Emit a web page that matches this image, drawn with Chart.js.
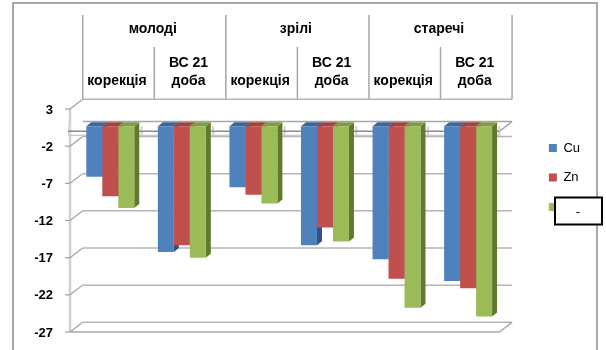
<!DOCTYPE html>
<html>
<head>
<meta charset="utf-8">
<script src="https://cdn.jsdelivr.net/npm/chart.js@4/dist/chart.umd.min.js"></script>
<style>
  html, body { margin: 0; padding: 0; background: #fff; }
  #wrap { width: 606px; height: 350px; }
</style>
</head>
<body>
<div id="wrap"><canvas id="c" width="606" height="350"></canvas></div>
<script>
// Sub-categories (lower header row) and age groups (upper header row)
const categories = ['корекція', ['ВС 21', 'доба'], 'корекція', ['ВС 21', 'доба'], 'корекція', ['ВС 21', 'доба']];
const groups = ['молоді', 'зрілі', 'старечі'];

// Series values
const cuValues    = [-6.8, -16.9, -8.2, -16.0, -17.9, -20.8];
const znValues    = [-9.4, -16.0, -9.2, -13.6, -20.5, -21.8];
const thirdValues = [-11.0, -17.7, -10.4, -15.5, -24.4, -25.6];

// Value axis ticks
const yTicks = [3, -2, -7, -12, -17, -22, -27];

// Perspective offsets of the front edge and back wall relative to the bars' plane
const FRONT = { dx: -4.5, dy: 5 };
const BACK  = { dx: 8.2, dy: -4.7 };
const DEPTH = { dx: 5, dy: 4 };

const sideColors = ['#2f5384', '#8a3431', '#5f7a2c'];
const topColors  = ['#3d679c', '#a2423f', '#7f9c45'];

function seg(ctx, x1, y1, x2, y2) {
  ctx.beginPath(); ctx.moveTo(x1, y1); ctx.lineTo(x2, y2); ctx.stroke();
}

const frame3d = {
  id: 'frame3d',
  beforeDraw(chart) {
    const ctx = chart.ctx;
    ctx.save();
    ctx.strokeStyle = '#8c8c8c';
    ctx.lineWidth = 1.5;
    ctx.strokeRect(13, 3, 584, 380);
    ctx.restore();
  },
  beforeDatasetsDraw(chart) {
    const { ctx, chartArea: a } = chart;
    const y = chart.scales.y;
    const n = categories.length;
    const catW = (a.right - a.left) / n;
    const fl = a.left + FRONT.dx, fr = a.right + FRONT.dx;
    const bl = a.left + BACK.dx, br = a.right + BACK.dx;
    const top = y.getPixelForValue(yTicks[0]);
    const bot = y.getPixelForValue(yTicks[yTicks.length - 1]);
    const zero = y.getPixelForValue(0);
    ctx.save();

    // header table separators
    ctx.strokeStyle = '#a6a6a6';
    ctx.lineWidth = 1.5;
    for (let k = 0; k <= n; k++) {
      const x = bl + k * catW;
      seg(ctx, x, k % 2 === 0 ? 15 : 47, x, top + BACK.dy);
    }

    // back wall gridlines
    ctx.strokeStyle = '#b4b4b4';
    ctx.lineWidth = 1.5;
    yTicks.forEach(v => {
      const p = y.getPixelForValue(v) + BACK.dy;
      seg(ctx, bl, p, br, p);
    });

    // side wall front edge
    ctx.strokeStyle = '#cfcfcf';
    ctx.lineWidth = 2.5;
    seg(ctx, fl, top + FRONT.dy, fl, bot + FRONT.dy);

    // tick marks and their depth diagonals
    ctx.strokeStyle = '#a0a0a0';
    ctx.lineWidth = 1.2;
    yTicks.forEach(v => {
      const p = y.getPixelForValue(v);
      seg(ctx, fl - 5, p + FRONT.dy, fl, p + FRONT.dy);
      seg(ctx, fl, p + FRONT.dy, bl, p + BACK.dy);
    });

    // bottom floor
    ctx.strokeStyle = '#a6a6a6';
    ctx.lineWidth = 1.5;
    seg(ctx, fl, bot + FRONT.dy, fr, bot + FRONT.dy);
    seg(ctx, fr, bot + FRONT.dy, br, bot + BACK.dy);

    // zero plane: back edge, right side, front plate with category ticks
    const zf = zero + FRONT.dy;
    ctx.strokeStyle = '#a6a6a6';
    seg(ctx, bl, zero + BACK.dy, br, zero + BACK.dy);
    seg(ctx, fr, zf, br, zero + BACK.dy);
    ctx.fillStyle = '#d9d9d9';
    ctx.fillRect(fl - 2, zero - 2, 3, 10);
    ctx.strokeStyle = '#cfcfcf';
    ctx.lineWidth = 2;
    for (let k = 1; k <= n; k++) {
      const x = fl + k * catW;
      seg(ctx, x, zf - 5, x, zf + 4);
    }
    ctx.strokeStyle = '#c8c8c8';
    ctx.lineWidth = 1.2;
    seg(ctx, fl - 2, zf + 4, fr, zf + 4);
    ctx.strokeStyle = '#8a8a8a';
    ctx.lineWidth = 1.5;
    seg(ctx, fl - 2, zf, fr, zf);

    // bar depth: right side and top faces
    chart.data.datasets.forEach((ds, i) => {
      const meta = chart.getDatasetMeta(i);
      meta.data.forEach(bar => {
        const { x, y: yb, base, width } = bar.getProps(['x', 'y', 'base', 'width'], true);
        const l = x - width / 2, r = x + width / 2;
        ctx.fillStyle = sideColors[i];
        ctx.beginPath();
        ctx.moveTo(r, base); ctx.lineTo(r + DEPTH.dx, base - DEPTH.dy);
        ctx.lineTo(r + DEPTH.dx, yb - DEPTH.dy); ctx.lineTo(r, yb);
        ctx.closePath(); ctx.fill();
        ctx.fillStyle = topColors[i];
        ctx.beginPath();
        ctx.moveTo(l, base); ctx.lineTo(l + DEPTH.dx, base - DEPTH.dy);
        ctx.lineTo(r + DEPTH.dx, base - DEPTH.dy); ctx.lineTo(r, base);
        ctx.closePath(); ctx.fill();
      });
    });
    ctx.restore();
  },
  afterDraw(chart) {
    const ctx = chart.ctx;
    ctx.save();
    ctx.fillStyle = '#fff';
    ctx.fillRect(555, 197.5, 47, 27);
    ctx.strokeStyle = '#000';
    ctx.lineWidth = 2;
    ctx.strokeRect(555, 197.5, 47, 27);
    ctx.fillStyle = '#000';
    ctx.font = '13px "Liberation Sans"';
    ctx.textAlign = 'center';
    ctx.textBaseline = 'middle';
    ctx.fillText('-', 578, 212);
    ctx.restore();
  }
};

const hiddenAxis = {
  display: true,
  grid: { display: false, drawTicks: false },
  border: { display: false },
  ticks: { display: false }
};

new Chart(document.getElementById('c'), {
  type: 'bar',
  data: {
    labels: categories,
    datasets: [
      { label: 'Cu', data: cuValues, backgroundColor: '#4f81bd' },
      { label: 'Zn', data: znValues, backgroundColor: '#c0504d' },
      { label: ' ', data: thirdValues, backgroundColor: '#9bbb59' }
    ]
  },
  options: {
    responsive: false,
    animation: false,
    devicePixelRatio: 1,
    layout: { padding: { top: 5, right: 16, bottom: 0, left: 0 } },
    datasets: { bar: { categoryPercentage: 0.67, barPercentage: 1.0 } },
    plugins: {
      title: { display: false },
      tooltip: { enabled: false },
      legend: {
        position: 'right',
        align: 'center',
        labels: {
          boxWidth: 8, boxHeight: 8, padding: 16.5,
          color: '#000',
          font: { family: '"Liberation Sans", Arial, sans-serif', size: 13 }
        }
      }
    },
    scales: {
      x: {
        position: 'top',
        weight: 0,
        offset: true,
        grid: { display: false, drawTicks: false },
        border: { display: false },
        ticks: {
          maxRotation: 0, autoSkip: false, padding: 13, labelOffset: 6.7,
          color: '#000',
          font: { family: '"Liberation Sans", Arial, sans-serif', size: 14, weight: 'bold', lineHeight: 1.35 }
        },
        afterFit(s) { s.height = 50; }
      },
      xg: {
        type: 'category',
        labels: groups,
        position: 'top',
        weight: 1,
        offset: true,
        grid: { display: false, drawTicks: false },
        border: { display: false },
        ticks: {
          maxRotation: 0, autoSkip: false, padding: 16, labelOffset: 6.7,
          color: '#000',
          font: { family: '"Liberation Sans", Arial, sans-serif', size: 14, weight: 'bold', lineHeight: 1.2 }
        },
        afterFit(s) { s.height = 49; }
      },
      y: {
        min: yTicks[yTicks.length - 1],
        max: yTicks[0],
        afterBuildTicks(s) { s.ticks = yTicks.map(v => ({ value: v })); },
        grid: { display: false, drawTicks: false },
        border: { display: false },
        ticks: {
          padding: 21.5, labelOffset: 6,
          color: '#000',
          font: { family: '"Liberation Sans", Arial, sans-serif', size: 13, weight: 'bold' }
        },
        afterFit(s) { s.width = 74.5; s.paddingTop = 0; s.paddingBottom = 0; }
      },
      yr: Object.assign({ type: 'linear', position: 'right', afterFit(s) { s.width = 28.5; s.paddingTop = 0; s.paddingBottom = 0; } }, hiddenAxis),
      xb: Object.assign({ type: 'linear', position: 'bottom', afterFit(s) { s.height = 23; s.paddingLeft = 0; s.paddingRight = 0; } }, hiddenAxis)
    }
  },
  plugins: [frame3d]
});
</script>
</body>
</html>
